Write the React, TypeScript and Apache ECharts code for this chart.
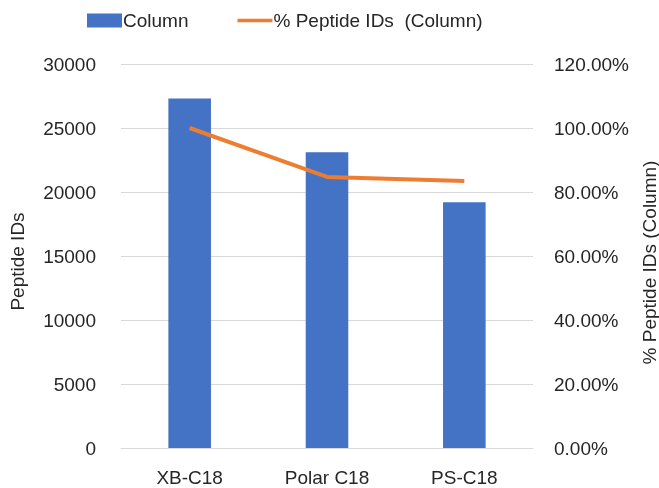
import React, { useEffect, useRef } from "react";
import * as echarts from "echarts";

const categories = ["XB-C18", "Polar C18", "PS-C18"];
const peptideIDs = [27300, 23100, 19200];
const percentIDs = [100, 84.7, 83.4];
const leftTicks = { min: 0, max: 30000, interval: 5000 };
const rightTicks = { min: 0, max: 120, interval: 20 };

const FONT = "Liberation Sans, Arial, sans-serif";
const FS = 19;

export default function App() {
  const ref = useRef<HTMLDivElement>(null);
  useEffect(() => {
    const chart = echarts.init(ref.current!, null, { renderer: "svg" });
    chart.setOption({
      animation: false,
      textStyle: { fontFamily: FONT },
      legend: {
        top: 11,
        left: 87,
        padding: 0,
        itemGap: 49,
        itemWidth: 35,
        itemHeight: 14,
        textStyle: { fontSize: FS, color: "#262626", padding: [0, 0, 0, -4] },
        data: [
          { name: "Column", icon: "rect" },
          {
            name: "% Peptide IDs  (Column)",
            icon: "path://M0,0H38V4H0Z",
            itemStyle: { color: "#ED7D31" },
          },
        ],
      },
      grid: {
        left: 121,
        right: 126,
        top: 64,
        bottom: 40,
        outerBoundsMode: "none",
        containLabel: false,
      },
      xAxis: {
        type: "category",
        data: categories,
        axisLine: { lineStyle: { color: "#D9D9D9", width: 1 } },
        axisTick: { show: false },
        axisLabel: {
          fontSize: FS,
          lineHeight: 19,
          color: "#262626",
          margin: 20,
        },
      },
      yAxis: [
        {
          type: "value",
          ...leftTicks,
          name: "Peptide IDs",
          nameLocation: "middle",
          nameGap: 94,
          nameTextStyle: {
            fontSize: 19,
            color: "#262626",
            padding: [0, 11, 0, 0],
          },
          axisLine: { show: false },
          axisTick: { show: false },
          axisLabel: {
            fontSize: FS,
            color: "#262626",
            margin: 25,
            formatter: (v: number) => String(v),
          },
          splitLine: { lineStyle: { color: "#D9D9D9", width: 1 } },
        },
        {
          type: "value",
          ...rightTicks,
          position: "right",
          name: "% Peptide IDs (Column)",
          nameLocation: "middle",
          nameGap: 104,
          nameTextStyle: {
            fontSize: 19,
            lineHeight: 18,
            color: "#262626",
            padding: [0, 13, 0, 0],
          },
          axisLine: { show: false },
          axisTick: { show: false },
          axisLabel: {
            fontSize: FS,
            color: "#262626",
            margin: 21,
            formatter: (v: number) => v.toFixed(2) + "%",
          },
          splitLine: { show: false },
        },
      ],
      series: [
        {
          name: "Column",
          type: "bar",
          data: peptideIDs,
          barWidth: "31%",
          itemStyle: { color: "#4472C4" },
          yAxisIndex: 0,
        },
        {
          name: "% Peptide IDs  (Column)",
          type: "line",
          data: percentIDs,
          yAxisIndex: 1,
          symbol: "none",
          lineStyle: { color: "#ED7D31", width: 4 },
          itemStyle: { color: "#ED7D31" },
        },
      ],
    });
    return () => chart.dispose();
  }, []);
  return (
    <div
      ref={ref}
      style={{ position: "fixed", left: 0, top: 0, width: 659, height: 488 }}
    />
  );
}
